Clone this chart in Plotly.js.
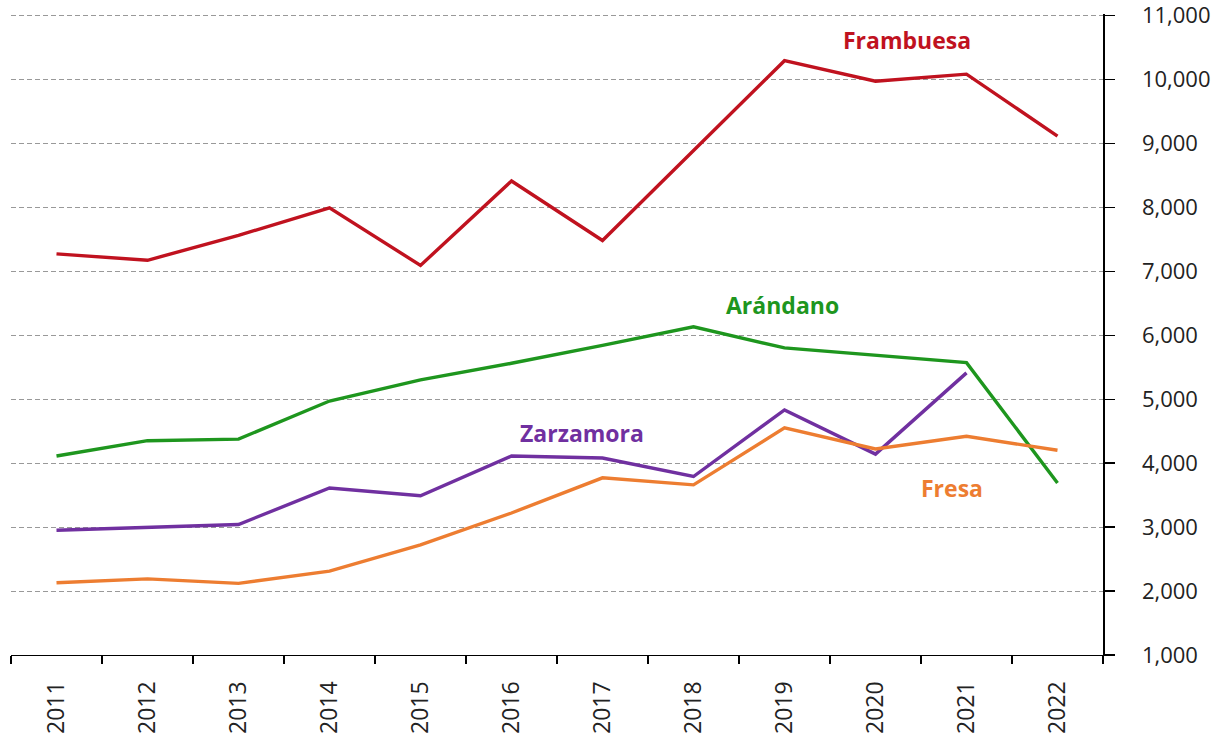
<!DOCTYPE html>
<html>
<head>
<meta charset="utf-8">
<script src="https://cdn.plot.ly/plotly-3.0.1.min.js"></script>
<style>html,body{margin:0;padding:0;background:#fff;}#chart{width:1230px;height:743px;}</style>
</head>
<body>
<div id="chart"></div>
<script>
const years = ["2011","2012","2013","2014","2015","2016","2017","2018","2019","2020","2021","2022"];
const frambuesa = [7270, 7170, 7560, 7990, 7090, 8410, 7480, 8890, 10290, 9970, 10080, 9110];
const arandano  = [4110, 4350, 4375, 4970, 5300, 5560, 5840, 6130, 5800, 5690, 5570, 3690];
const zarzamora = [2950, 2990, 3040, 3610, 3490, 4110, 4080, 3790, 4830, 4140, 5410, null];
const fresa     = [2130, 2190, 2120, 2310, 2720, 3220, 3770, 3660, 4550, 4220, 4420, 4200];
const yTicks = [1000, 2000, 3000, 4000, 5000, 6000, 7000, 8000, 9000, 10000, 11000];

const series = [
  {name: "Frambuesa", y: frambuesa, color: "#C0121F", lx: 9.35, ly: 10610},
  {name: "Arándano", y: arandano, color: "#1E961E", lx: 7.98, ly: 6470},
  {name: "Zarzamora", y: zarzamora, color: "#7030A0", lx: 5.77, ly: 4470},
  {name: "Fresa", y: fresa, color: "#ED7D31", lx: 9.84, ly: 3610}
];

const traces = series.map(s => ({
  type: "scatter", mode: "lines", x: years, y: s.y, name: s.name,
  line: {color: s.color, width: 3.4}, connectgaps: false, hoverinfo: "x+y+name"
}));

const annotations = series.map(s => ({
  x: s.lx, y: s.ly, xref: "x", yref: "y", text: "<b>" + s.name + "</b>",
  showarrow: false, font: {family: "Open Sans", size: 23, color: s.color},
  xanchor: "center", yanchor: "middle"
}));

const layout = {
  width: 1230, height: 743,
  margin: {l: 11, r: 127, t: 14, b: 88},
  paper_bgcolor: "#fff", plot_bgcolor: "#fff",
  showlegend: false,
  font: {family: "Open Sans", color: "#222"},
  xaxis: {
    type: "category", range: [-0.5, 11.5], tickson: "boundaries",
    ticks: "outside", ticklen: 8, tickcolor: "#000", tickwidth: 1.2,
    showline: true, linecolor: "#000", linewidth: 1.2,
    showgrid: false, zeroline: false, tickangle: -90,
    tickfont: {family: "Open Sans", size: 23, color: "#222"},
    ticklabelstandoff: 16
  },
  yaxis: {
    side: "right", range: [1000, 11020], tickvals: yTicks,
    tickformat: ",d", ticks: "outside", ticklen: 10, tickcolor: "#000", tickwidth: 1.2,
    showline: true, linecolor: "#000", linewidth: 1.5,
    showgrid: true, gridcolor: "#999999", gridwidth: 1, griddash: "5px,3px",
    zeroline: false, ticklabeloverflow: "allow",
    tickfont: {family: "Open Sans", size: 22, color: "#222"},
    ticklabelstandoff: 23
  },
  annotations: annotations
};

Plotly.newPlot("chart", traces, layout, {displayModeBar: false, staticPlot: true});
</script>
</body>
</html>
